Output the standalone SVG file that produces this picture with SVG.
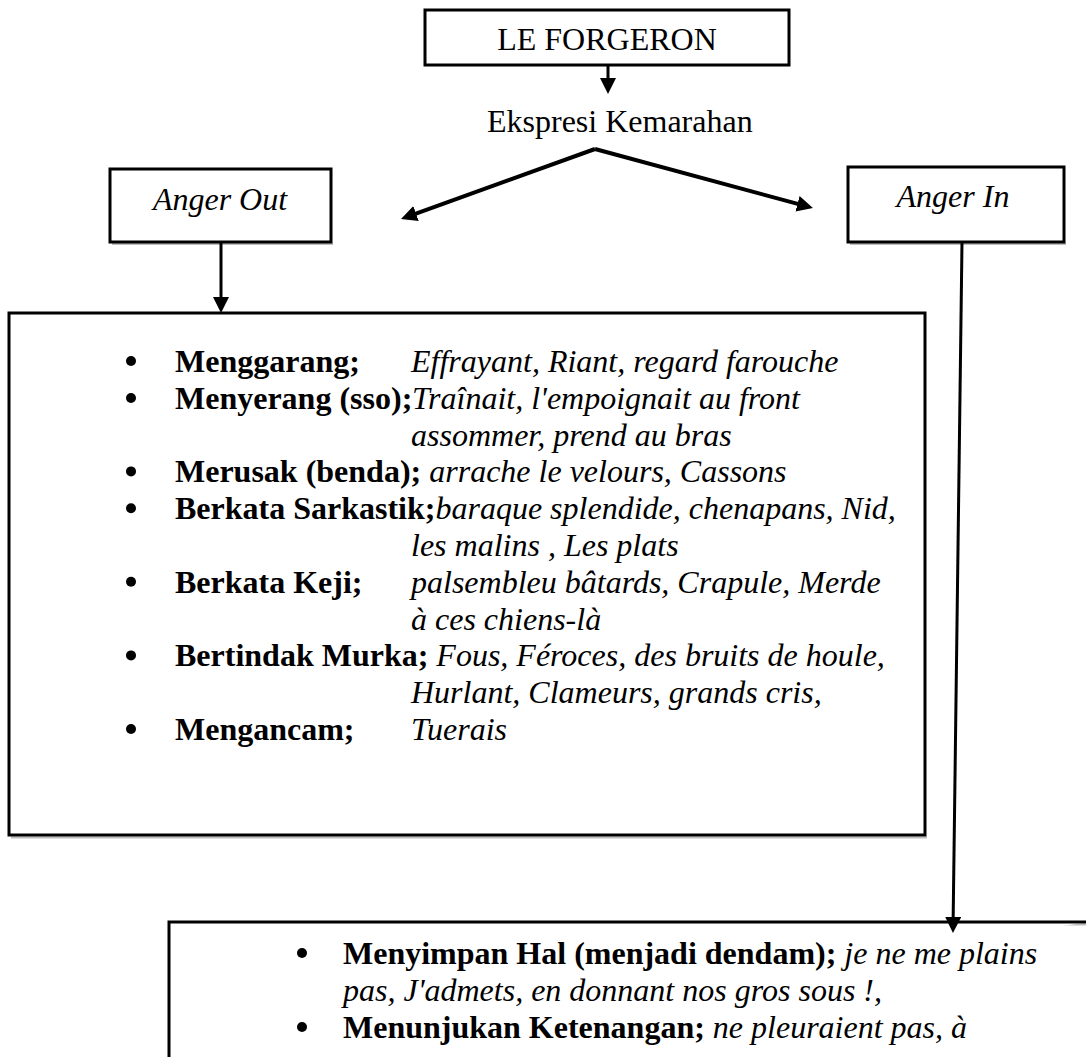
<svg xmlns="http://www.w3.org/2000/svg" width="1086" height="1057" viewBox="0 0 1086 1057">
<defs>
<style>
.box{fill:#fff;stroke:#000;stroke-width:3}
.shadow{fill:none;stroke:#bdbdbd;stroke-width:2}
.t{font-family:"Liberation Serif","Times New Roman",serif;font-size:32px;fill:#000}
.b{font-weight:bold}
.i{font-style:italic}
.c{stroke:#000;fill:none}
.bul{fill:#000}
</style>
<marker id="ah" viewBox="0 0 16 16" refX="6" refY="8" markerWidth="16" markerHeight="16" markerUnits="userSpaceOnUse" orient="auto">
<path d="M0,0 L16,8 L0,16 z" fill="#000"/>
</marker>
</defs>
<rect width="1086" height="1057" fill="#fff"/>

<g id="node-title">
<rect class="box" x="425" y="10" width="364" height="55"/>
<text class="t" x="607" y="50" text-anchor="middle">LE FORGERON</text>
</g>

<g id="node-ekspresi">
<text class="t" x="487" y="132">Ekspresi Kemarahan</text>
</g>

<g id="node-anger-out">
<line class="shadow" x1="112" y1="244" x2="333" y2="244"/>
<rect class="box" x="110" y="169" width="221" height="73"/>
<text class="t i" x="220" y="210" text-anchor="middle">Anger Out</text>
</g>

<g id="node-anger-in">
<line class="shadow" x1="850" y1="244" x2="1066" y2="244"/>
<rect class="box" x="848" y="167" width="216" height="75"/>
<text class="t i" x="953" y="207" text-anchor="middle">Anger In</text>
</g>

<g id="node-out-list">
<line class="shadow" x1="11" y1="837.5" x2="927" y2="837.5"/>
<rect class="box" x="9" y="313" width="916" height="522"/>
<g class="t">
<circle class="bul" cx="131" cy="361" r="5"/>
<text x="175" y="372"><tspan class="b">Menggarang;</tspan><tspan class="i" x="411">Effrayant, Riant, regard farouche</tspan></text>
<circle class="bul" cx="131" cy="398" r="5"/>
<text x="175" y="408.8"><tspan class="b">Menyerang (sso);</tspan><tspan class="i" x="412">Traînait, l'empoignait au front</tspan></text>
<text class="i" x="411" y="445.6">assommer, prend au bras</text>
<circle class="bul" cx="131" cy="471.4" r="5"/>
<text x="175" y="482.4"><tspan class="b">Merusak (benda);</tspan><tspan class="i"> arrache le velours, Cassons</tspan></text>
<circle class="bul" cx="131" cy="508.2" r="5"/>
<text x="175" y="519.2"><tspan class="b">Berkata Sarkastik;</tspan><tspan class="i">baraque splendide, chenapans, Nid,</tspan></text>
<text class="i" x="411" y="556">les malins , Les plats</text>
<circle class="bul" cx="131" cy="581.8" r="5"/>
<text x="175" y="592.8"><tspan class="b">Berkata Keji;</tspan><tspan class="i" x="411">palsembleu bâtards, Crapule, Merde</tspan></text>
<text class="i" x="411" y="629.6">à ces chiens-là</text>
<circle class="bul" cx="131" cy="655.4" r="5"/>
<text x="175" y="666.4"><tspan class="b">Bertindak Murka;</tspan><tspan class="i"> Fous, Féroces, des bruits de houle,</tspan></text>
<text class="i" x="411" y="703.2">Hurlant, Clameurs, grands cris,</text>
<circle class="bul" cx="131" cy="729" r="5"/>
<text x="175" y="740"><tspan class="b">Mengancam;</tspan><tspan class="i" x="411">Tuerais</tspan></text>
</g>
</g>

<g id="node-in-list">
<path class="shadow" d="M171,924.5 H1086"/>
<path d="M1090,922 H169 V1060" fill="#fff" stroke="#000" stroke-width="3"/>
<g class="t">
<circle class="bul" cx="302" cy="953" r="5"/>
<text x="343" y="964"><tspan class="b">Menyimpan Hal (menjadi dendam);</tspan><tspan class="i"> je ne me plains</tspan></text>
<text class="i" x="343" y="1001">pas, J'admets, en donnant nos gros sous !,</text>
<circle class="bul" cx="302" cy="1027" r="5"/>
<text x="343" y="1038"><tspan class="b">Menunjukan Ketenangan;</tspan><tspan class="i"> ne pleuraient pas, à</tspan></text>
</g>
</g>

<g id="connectors">
<line class="c" stroke-width="3" x1="608" y1="65" x2="608" y2="84" marker-end="url(#ah)"/>
<line class="c" stroke-width="4" x1="595" y1="149" x2="410.4" y2="215.6" marker-end="url(#ah)"/>
<line class="c" stroke-width="4" x1="595" y1="149" x2="803.3" y2="205.4" marker-end="url(#ah)"/>
<line class="c" stroke-width="3" x1="221" y1="242" x2="221" y2="303" marker-end="url(#ah)"/>
<line class="c" stroke-width="3" x1="962" y1="242" x2="953.1" y2="923" marker-end="url(#ah)"/>
</g>
</svg>
